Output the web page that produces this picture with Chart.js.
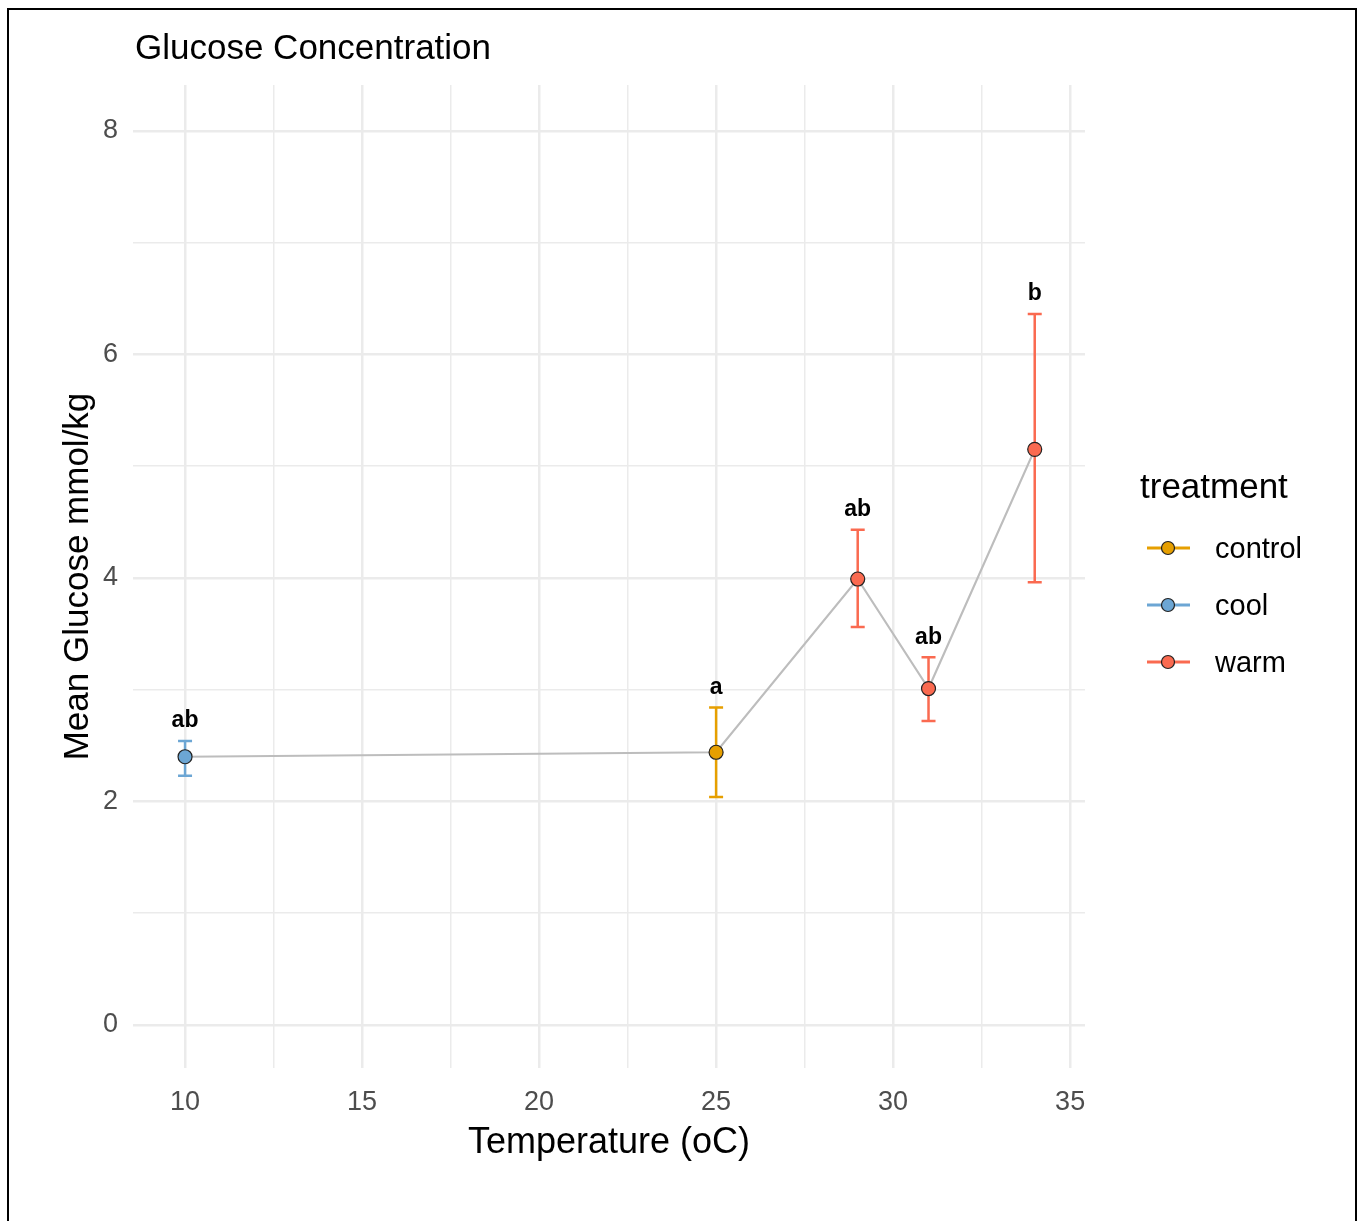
<!DOCTYPE html>
<html lang="en">
<head>
<meta charset="UTF-8">
<title>Glucose Concentration</title>
<style>
  body {
    margin: 0;
    padding: 0;
    background: #fff;
  }
  .frame {
    position: absolute;
    left: 7px;
    top: 8px;
    width: 1346px;
    height: 1213px;
    border: 2px solid #000;
    border-bottom: none;
    pointer-events: none;
  }
  canvas {
    position: absolute;
    left: 0;
    top: 0;
  }
</style>
<script src="https://cdn.jsdelivr.net/npm/chart.js"></script>
</head>
<body>
<canvas id="chart" width="1359" height="1221"></canvas>
<div class="frame"></div>

<script>
// data
const temps = [10, 25, 29, 31, 34];
const means = [2.40, 2.44, 3.99, 3.01, 5.15];
const lower = [2.23, 2.04, 3.56, 2.72, 3.96];
const upper = [2.54, 2.84, 4.43, 3.29, 6.36];
const groups = ['cool', 'control', 'warm', 'warm', 'warm'];
const letters = ['ab', 'a', 'ab', 'ab', 'b'];

const treatments = ['control', 'cool', 'warm'];
const colors = { control: '#E69F00', cool: '#6CA6D4', warm: '#FA6A50' };

const FONT = '"Liberation Sans", Arial, sans-serif';

function pointsFor(t) {
  const out = [];
  temps.forEach((x, i) => {
    if (groups[i] === t) out.push({ x: x, y: means[i] });
  });
  return out;
}

const datasets = [{
  label: 'line',
  type: 'line',
  data: temps.map((x, i) => ({ x: x, y: means[i] })),
  borderColor: '#bdbdbd',
  borderWidth: 2.2,
  pointRadius: 0,
  fill: false,
  order: 2
}];
treatments.forEach(t => {
  datasets.push({
    label: t,
    data: pointsFor(t),
    backgroundColor: colors[t],
    borderColor: '#222',
    borderWidth: 1.2,
    pointRadius: 7,
    order: 0
  });
});

// error bars, letters, title and legend
const extras = {
  id: 'extras',
  beforeDatasetsDraw(chart) {
    const ctx = chart.ctx;
    const xs = chart.scales.x, ys = chart.scales.y;
    ctx.save();
    temps.forEach((t, i) => {
      const px = xs.getPixelForValue(t);
      const top = ys.getPixelForValue(upper[i]);
      const bot = ys.getPixelForValue(lower[i]);
      ctx.strokeStyle = colors[groups[i]];
      ctx.lineWidth = 2.5;
      ctx.beginPath();
      ctx.moveTo(px, top); ctx.lineTo(px, bot);
      ctx.moveTo(px - 7, top); ctx.lineTo(px + 7, top);
      ctx.moveTo(px - 7, bot); ctx.lineTo(px + 7, bot);
      ctx.stroke();
    });
    ctx.restore();
  },
  afterDraw(chart) {
    const ctx = chart.ctx;
    const xs = chart.scales.x, ys = chart.scales.y;
    ctx.save();
    ctx.fillStyle = '#000';
    ctx.textAlign = 'center';
    ctx.textBaseline = 'middle';
    ctx.font = 'bold 23px ' + FONT;
    temps.forEach((t, i) => {
      ctx.fillText(letters[i], xs.getPixelForValue(t), ys.getPixelForValue(upper[i]) - 20);
    });

    // title
    ctx.textAlign = 'left';
    ctx.font = '35px ' + FONT;
    ctx.fillText('Glucose Concentration', 135, 49);

    // legend
    ctx.font = '35px ' + FONT;
    ctx.fillText('treatment', 1140, 488);
    ctx.font = '29px ' + FONT;
    treatments.forEach((t, k) => {
      const y = 548 + k * 57;
      ctx.strokeStyle = colors[t];
      ctx.lineWidth = 3;
      ctx.beginPath();
      ctx.moveTo(1147, y); ctx.lineTo(1190, y);
      ctx.stroke();
      ctx.beginPath();
      ctx.arc(1168, y, 6.5, 0, Math.PI * 2);
      ctx.fillStyle = colors[t];
      ctx.fill();
      ctx.strokeStyle = '#222';
      ctx.lineWidth = 1.2;
      ctx.stroke();
      ctx.fillStyle = '#000';
      ctx.fillText(t, 1215, y + 2);
    });
    ctx.restore();
  }
};

const config = {
  type: 'scatter',
  data: { datasets: datasets },
  options: {
    responsive: false,
    animation: false,
    layout: { padding: { left: 0, top: 85, right: 274, bottom: 0 } },
    plugins: {
      legend: { display: false },
      tooltip: { enabled: false }
    },
    scales: {
      x: {
        type: 'linear',
        min: 8.53,
        max: 35.42,
        afterFit(scale) { scale.height = 153; },
        border: { display: false },
        grid: {
          color: '#ebebeb',
          drawTicks: false,
          lineWidth: c => (c.tick && c.tick.value % 5 === 0) ? 2.5 : 1.5
        },
        ticks: {
          stepSize: 2.5,
          includeBounds: false,
          autoSkip: false,
          maxRotation: 0,
          padding: 18,
          color: '#4d4d4d',
          font: { family: FONT, size: 27 },
          callback: v => (v % 5 === 0 ? v : '')
        },
        title: {
          display: true,
          text: 'Temperature (oC)',
          color: '#000',
          font: { family: FONT, size: 36 },
          padding: { top: 0, bottom: 56 }
        }
      },
      y: {
        type: 'linear',
        min: -0.385,
        max: 8.41,
        afterFit(scale) { scale.width = 133; },
        border: { display: false },
        grid: {
          color: '#ebebeb',
          drawTicks: false,
          lineWidth: c => (c.tick && c.tick.value % 2 === 0) ? 2.5 : 1.5
        },
        ticks: {
          stepSize: 1,
          includeBounds: false,
          autoSkip: false,
          padding: 15,
          color: '#4d4d4d',
          font: { family: FONT, size: 27 },
          callback: v => (v % 2 === 0 ? v : '')
        },
        title: {
          display: true,
          text: 'Mean Glucose mmol/kg',
          color: '#000',
          font: { family: FONT, size: 35 },
          padding: { top: 57, bottom: 0 }
        }
      }
    }
  },
  plugins: [extras]
};

window.onload = function() {
  new Chart(document.getElementById('chart').getContext('2d'), config);
};
</script>
</body>
</html>
